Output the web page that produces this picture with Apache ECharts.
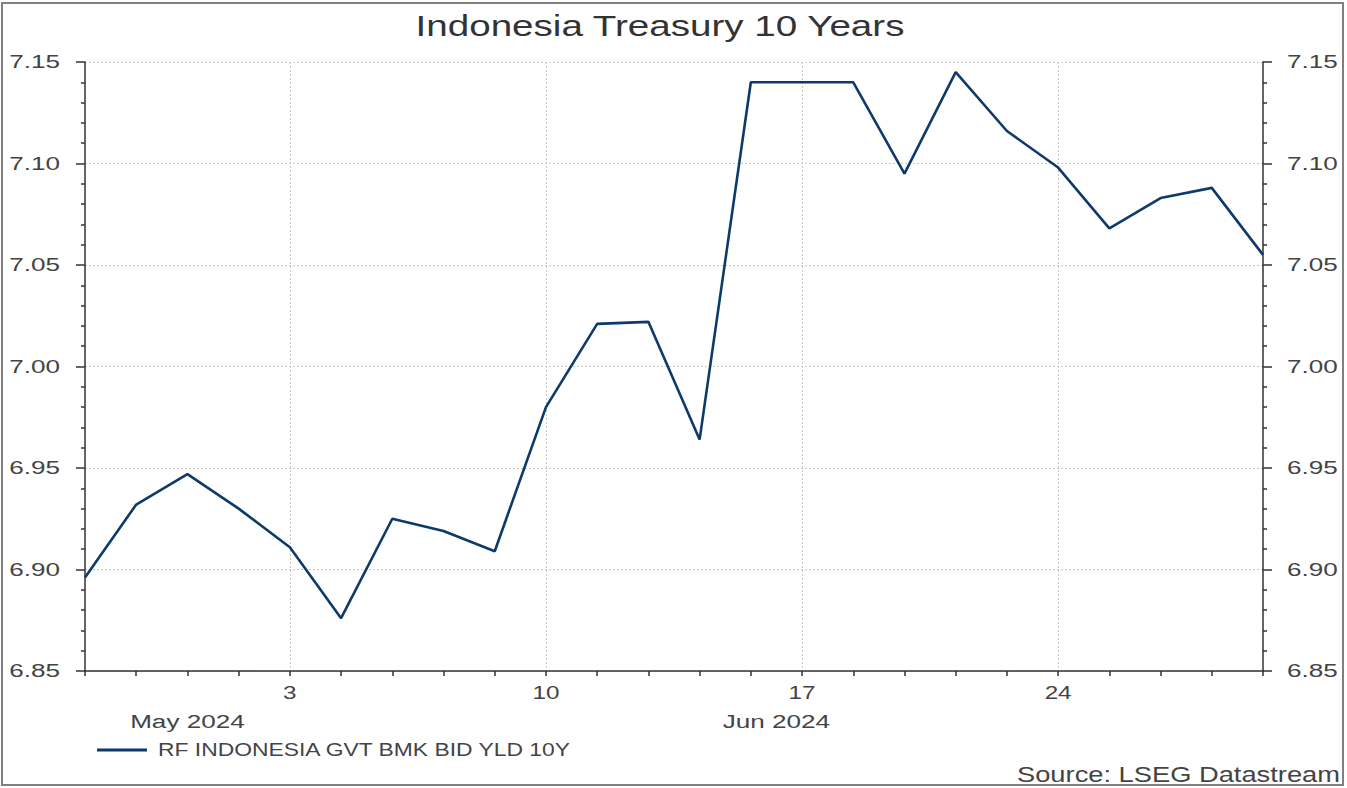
<!DOCTYPE html>
<html>
<head>
<meta charset="utf-8">
<script src="https://cdn.jsdelivr.net/npm/echarts@6/dist/echarts.min.js"></script>
<style>
html,body{margin:0;padding:0;background:#fff;}
#chart{width:1347px;height:788px;}
</style>
</head>
<body>
<div id="chart"></div>
<script>
// Business days (x categories)
const dates = ['2024-05-28','2024-05-29','2024-05-30','2024-05-31',
  '2024-06-03','2024-06-04','2024-06-05','2024-06-06','2024-06-07',
  '2024-06-10','2024-06-11','2024-06-12','2024-06-13','2024-06-14',
  '2024-06-17','2024-06-18','2024-06-19','2024-06-20','2024-06-21',
  '2024-06-24','2024-06-25','2024-06-26','2024-06-27','2024-06-28'];
// RF INDONESIA GVT BMK BID YLD 10Y
const yields = [6.896,6.932,6.947,6.930,
  6.911,6.876,6.925,6.919,6.909,
  6.980,7.021,7.022,6.964,7.140,
  7.140,7.140,7.095,7.145,7.116,
  7.098,7.068,7.083,7.088,7.055];
// Labelled ticks (Mondays)
const tickDates = ['2024-06-03','2024-06-10','2024-06-17','2024-06-24'];
const tickLabels = ['3','10','17','24'];
// Month labels and their position on the category index scale
const monthLabels = ['May 2024','Jun 2024'];
const monthPos = [2, 13.5];
const yTicks = ['6.85','6.90','6.95','7.00','7.05','7.10','7.15'];

const titleText = 'Indonesia Treasury 10 Years';
const sourceText = 'Source: LSEG Datastream';
const seriesName = 'RF INDONESIA GVT BMK BID YLD 10Y';
const lineColor = '#0d3a6b';
const textColor = '#444';
const fontFam = 'Liberation Sans, Arial, sans-serif';

const chart = echarts.init(document.getElementById('chart'), null, {renderer:'svg'});
const isTick = (idx) => tickDates.indexOf(dates[idx]) >= 0;

const yAxisBase = {
  type:'value', min:6.85, max:7.15, interval:0.05,
  axisLine:{show:true, lineStyle:{color:'#333', width:1.5}},
  axisTick:{show:true, length:9, lineStyle:{color:'#333', width:1.5}},
  minorTick:{show:true, splitNumber:5, length:4, lineStyle:{color:'#333', width:1.5}},
  axisLabel:{color:textColor, fontSize:18, fontFamily:fontFam, margin:25,
    formatter:(v)=>{ const s=v.toFixed(2); return yTicks.indexOf(s)>=0 ? s : ''; }},
};

chart.setOption({
  animation:false,
  backgroundColor:'#fff',
  legend:{show:true, left:92, top:736, itemWidth:50, itemHeight:3, itemGap:16,
    icon:'rect',
    textStyle:{color:textColor, fontSize:18, fontFamily:fontFam, padding:[0,0,0,6]},
    data:[{name:seriesName, icon:'rect'}]},
  grid:{left:85, right:84, top:62, bottom:117, containLabel:false},
  xAxis:[{
    type:'category', data:dates, boundaryGap:false,
    axisLine:{show:true, lineStyle:{color:'#333', width:1.5}},
    axisTick:{show:true, interval:0, length:5, lineStyle:{color:'#333', width:1.5}},
    axisLabel:{interval:0, color:textColor, fontSize:18, fontFamily:fontFam, margin:13,
      formatter:(v)=>{ const k=tickDates.indexOf(v); return k>=0 ? tickLabels[k] : ''; }},
    splitLine:{show:true, interval:(idx)=>isTick(idx),
      lineStyle:{color:'#c8c8c8', type:[2,2], width:1}}
  },{
    type:'value', min:0, max:dates.length-1, position:'bottom', offset:40,
    axisLine:{show:false}, axisTick:{show:false}, splitLine:{show:false},
    axisLabel:{show:true, customValues:monthPos, color:textColor, fontSize:18, fontFamily:fontFam, margin:2,
      formatter:(v)=>{ const k=monthPos.indexOf(v); return k>=0 ? monthLabels[k] : ''; }}
  }],
  yAxis:[
    Object.assign({}, yAxisBase, {position:'left',
      splitLine:{show:true, lineStyle:{color:'#c8c8c8', type:[2,2], width:1}}}),
    Object.assign({}, yAxisBase, {position:'right', splitLine:{show:false},
      axisLabel:Object.assign({}, yAxisBase.axisLabel, {margin:24})})
  ],
  series:[{
    name:seriesName, type:'line', data:yields, xAxisIndex:0, yAxisIndex:0,
    showSymbol:false, symbol:'none',
    lineStyle:{color:lineColor, width:2.6}, itemStyle:{color:lineColor}
  }],
  graphic:[{
    type:'rect', silent:true, z:-1,
    shape:{x:2, y:3, width:1341, height:782},
    style:{fill:'none', stroke:'#808080', lineWidth:2}
  },{
    type:'text', x:660, y:26, silent:true,
    style:{text:titleText, align:'center', textAlign:'center', verticalAlign:'middle', textVerticalAlign:'middle',
      fill:'#333', fontSize:29, fontFamily:fontFam}
  },{
    type:'text', x:1340, y:774, silent:true,
    style:{text:sourceText, align:'right', textAlign:'right', verticalAlign:'middle', textVerticalAlign:'middle',
      fill:textColor, fontSize:22, fontFamily:fontFam}
  }]
});

// The reference typeface is horizontally wide: stretch glyphs per text type
function stretchTexts(){
  document.querySelectorAll('#chart svg text').forEach(t=>{
    const s = (t.textContent||'').trim();
    let k = 1;
    if (s === titleText) k = 1.33;
    else if (s === sourceText) k = 1.24;
    else if (s === seriesName) k = 1.27;
    else if (monthLabels.indexOf(s) >= 0) k = 1.45;
    else if (tickLabels.indexOf(s) >= 0) k = 1.35;
    else if (yTicks.indexOf(s) >= 0) k = 1.45;
    if (k !== 1 && t.getAttribute('data-w') !== s) {
      t.removeAttribute('textLength');
      const w = t.getComputedTextLength();
      t.setAttribute('textLength', (w*k).toFixed(1));
      t.setAttribute('lengthAdjust', 'spacingAndGlyphs');
      t.setAttribute('data-w', s);
    }
  });
}
stretchTexts();
chart.on('finished', stretchTexts);
setTimeout(stretchTexts, 30);
setTimeout(stretchTexts, 200);
</script>
</body>
</html>
